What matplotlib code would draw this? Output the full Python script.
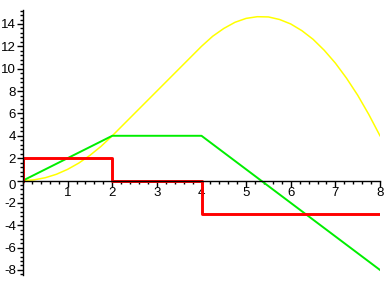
import matplotlib
matplotlib.use("Agg")
import matplotlib.pyplot as plt
from matplotlib.ticker import MultipleLocator, AutoMinorLocator

plt.rcParams['font.family'] = ['Liberation Sans', 'DejaVu Sans']
plt.rcParams['axes.unicode_minus'] = False

# position curve (yellow)
pos_t = [0, 0.25, 0.5, 0.75, 1, 1.25, 1.5, 1.75, 2, 2.5, 3, 3.5, 4,
         4.25, 4.5, 4.75, 5, 5.25, 5.5, 5.75, 6, 6.25, 6.5, 6.75, 7,
         7.25, 7.5, 7.75, 8]
pos_y = [0, 0.06, 0.25, 0.56, 1, 1.56, 2.25, 3.06, 4, 6, 8, 10, 12,
         12.9, 13.6, 14.15, 14.5, 14.65, 14.63, 14.4, 14, 13.4, 12.63, 11.65, 10.5,
         9.15, 7.63, 5.9, 4]

# velocity (green)
vel_t = [0, 2, 4, 8]
vel_y = [0, 4, 4, -8]

# acceleration (red)
acc_t = [0, 0, 2, 2, 4, 4, 8]
acc_y = [0, 2, 2, 0, 0, -3, -3]

fig = plt.figure(figsize=(3.88, 2.88), dpi=100)
ax = fig.add_axes([23 / 388, 1 - 275 / 288, 357 / 388, 265 / 288])

ax.plot(pos_t, pos_y, color='#ffff00', lw=1.1)
ax.plot(vel_t, vel_y, color='#00ee00', lw=1.4)
ax.plot(acc_t, acc_y, color='#ff0000', lw=2.1)

ax.set_xlim(0, 8)
ax.set_ylim(-8.45, 15.25)

ax.spines['top'].set_visible(False)
ax.spines['right'].set_visible(False)
ax.spines['left'].set_position(('data', 0))
ax.spines['bottom'].set_position(('data', 0))
for s in ('left', 'bottom'):
    ax.spines[s].set_linewidth(1.0)

ax.xaxis.set_major_locator(MultipleLocator(1))
ax.yaxis.set_major_locator(MultipleLocator(2))
ax.xaxis.set_minor_locator(AutoMinorLocator(5))
ax.yaxis.set_minor_locator(AutoMinorLocator(5))
ax.tick_params(which='major', direction='out', length=4, width=1, labelsize=9.5, pad=1)
ax.tick_params(which='minor', direction='out', length=2, width=1)

ax.set_xticks([1, 2, 3, 4, 5, 6, 7, 8])
ax.set_xticklabels(['1', '2', '3', '4', '5', '6', '7', '8'])
yt = [-8, -6, -4, -2, 0, 2, 4, 6, 8, 10, 12, 14]
ax.set_yticks(yt)
# the 0 label sits a little under the x axis in the original, drawn separately
ax.set_yticklabels(['' if v == 0 else str(v) for v in yt])
ax.annotate('0', xy=(0, 0), xytext=(-5, -4), textcoords='offset points',
            ha='right', va='center', fontsize=9.5)

fig.savefig('out.png', dpi=100)
